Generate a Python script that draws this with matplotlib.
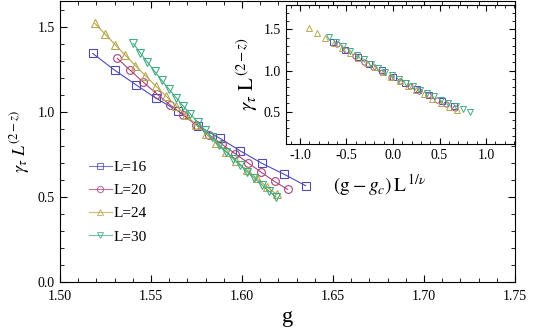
import matplotlib
matplotlib.use('Agg')
import matplotlib.pyplot as plt
from matplotlib.ticker import MultipleLocator, FormatStrFormatter
import numpy as np

matplotlib.rcParams['font.family'] = ['Liberation Serif', 'DejaVu Serif']
matplotlib.rcParams['mathtext.fontset'] = 'stix'
matplotlib.rcParams['figure.dpi'] = 100
matplotlib.rcParams['savefig.dpi'] = 100

# data: g and gamma_tau L^(2-z) for each size
g16 = [1.518, 1.530, 1.542, 1.553, 1.565, 1.576, 1.588, 1.599, 1.611, 1.623, 1.635]
y16 = [1.345, 1.247, 1.159, 1.080, 1.006, 0.918, 0.845, 0.772, 0.698, 0.635, 0.567]

g20 = [1.5315, 1.5387, 1.5459, 1.5531, 1.5603, 1.5675, 1.5747, 1.5819, 1.5891,
       1.5963, 1.6035, 1.6107, 1.6179, 1.6251]
y20 = [1.316, 1.245, 1.175, 1.108, 1.044, 0.985, 0.925, 0.867, 0.810, 0.755,
       0.700, 0.645, 0.592, 0.545]

g24 = [1.5192, 1.5248, 1.5303, 1.5359, 1.5414, 1.5470, 1.5526, 1.5581, 1.5637,
       1.5692, 1.5748, 1.5804, 1.5859, 1.5915, 1.5970, 1.6026, 1.6082, 1.6137, 1.6192]
y24 = [1.522, 1.459, 1.397, 1.335, 1.274, 1.214, 1.154, 1.096, 1.038, 0.981,
       0.925, 0.870, 0.816, 0.763, 0.711, 0.660, 0.610, 0.560, 0.515]

g30 = [1.5403, 1.5442, 1.5481, 1.5521, 1.5560, 1.5599, 1.5638, 1.5677, 1.5717,
       1.5756, 1.5795, 1.5834, 1.5873, 1.5913, 1.5952, 1.5991, 1.6030, 1.6069,
       1.6109, 1.6148, 1.6187]
y30 = [1.404, 1.348, 1.293, 1.239, 1.186, 1.135, 1.085, 1.036, 0.988, 0.941,
       0.896, 0.852, 0.809, 0.767, 0.726, 0.686, 0.648, 0.611, 0.572, 0.535, 0.500]

sizes = [16, 20, 24, 30]
labels = ['L=16', 'L=20', 'L=24', 'L=30']
# scaling parameters for the data collapse in the inset
gc = 1.576
inv_nu = 0.87

colors = ['#4c4cb4', '#a8447c', '#b8a650', '#44ac84']
markers = ['s', 'o', '^', 'v']
msizes = [5.3, 5.6, 6.2, 6.2]
gs = [g16, g20, g24, g30]
ys = [y16, y20, y24, y30]

fig = plt.figure(figsize=(5.4, 3.36))
ax = fig.add_axes([0.111, 0.1607, 0.8426, 0.836])

for g, y, c, m, s, lab in zip(gs, ys, colors, markers, msizes, labels):
    ax.plot(g, y, color=c, lw=0.8, marker=m, ms=s, mfc='none', mec=c, mew=0.8, label=lab)

ax.set_xlim(1.5, 1.75)
ax.set_ylim(0, 1.653)
ax.xaxis.set_major_locator(MultipleLocator(0.05))
ax.xaxis.set_minor_locator(MultipleLocator(0.01))
ax.yaxis.set_major_locator(MultipleLocator(0.5))
ax.yaxis.set_minor_locator(MultipleLocator(0.1))
ax.xaxis.set_major_formatter(FormatStrFormatter('%.2f'))
ax.yaxis.set_major_formatter(FormatStrFormatter('%.1f'))
ax.tick_params(which='both', direction='in', top=True, right=True, labelsize=10)
ax.tick_params(which='major', length=5, width=0.8)
ax.tick_params(which='minor', length=3, width=0.6)
ax.tick_params(axis='x', pad=6)
ax.set_xlabel('g', fontsize=16, labelpad=3)
ax.set_ylabel(r'$\gamma_\tau\ L^{(2-z)}$', fontsize=13, labelpad=4)

leg = ax.legend(loc='upper left', bbox_to_anchor=(0.05, 0.455), frameon=False, fontsize=11,
                handlelength=1.5, handletextpad=0.1, labelspacing=0.62, borderaxespad=0,
                markerscale=0.8)
for h in leg.get_lines():
    h.set_alpha(0.75)

# inset: data collapse
ax_in = fig.add_axes([0.5296, 0.5714, 0.424, 0.4137])
for g, y, L, c, m in zip(gs, ys, sizes, colors, markers):
    x = (np.array(g) - gc) * L ** inv_nu
    ax_in.plot(x, y, ls='none', marker=m, ms=3.8, mfc='none', mec=c, mew=0.7)

ax_in.set_xlim(-1.15, 1.31)
ax_in.set_ylim(0.108, 1.795)
ax_in.xaxis.set_major_locator(MultipleLocator(0.5))
ax_in.xaxis.set_minor_locator(MultipleLocator(0.1))
ax_in.yaxis.set_major_locator(MultipleLocator(0.5))
ax_in.yaxis.set_minor_locator(MultipleLocator(0.1))
ax_in.xaxis.set_major_formatter(FormatStrFormatter('%.1f'))
ax_in.yaxis.set_major_formatter(FormatStrFormatter('%.1f'))
ax_in.tick_params(which='both', direction='in', top=True, right=True, labelsize=10)
ax_in.tick_params(which='major', length=4, width=0.8)
ax_in.tick_params(which='minor', length=2, width=0.6)
ax_in.set_xlabel(r'$(\mathrm{g}-g_c)\,\mathrm{L}^{\,1/\nu}$', fontsize=14, labelpad=6)
ax_in.xaxis.set_label_coords(0.41, -0.2)
ax_in.set_ylabel(r'$\gamma_\tau\ \mathrm{L}^{\,(2-z)}$', fontsize=15, labelpad=3)

fig.savefig('out.png')
